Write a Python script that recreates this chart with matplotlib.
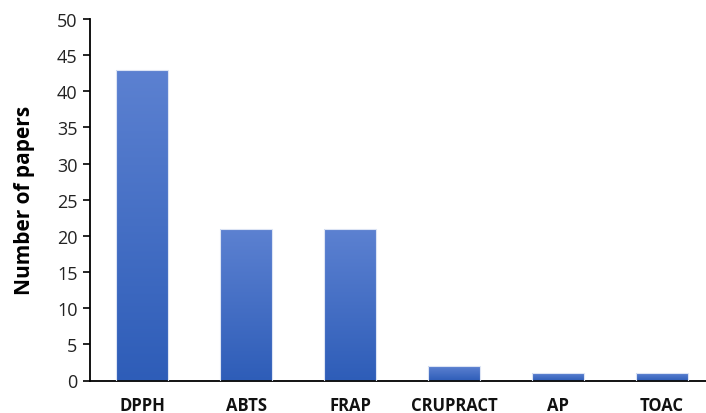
import matplotlib
matplotlib.use("Agg")
import matplotlib.pyplot as plt
import numpy as np
from matplotlib.colors import LinearSegmentedColormap

categories = ["DPPH", "ABTS", "FRAP", "CRUPRACT", "AP", "TOAC"]
values = [43, 21, 21, 2, 1, 1]
yticks = [0, 5, 10, 15, 20, 25, 30, 35, 40, 45, 50]

plt.rcParams['font.family'] = ['Open Sans', 'DejaVu Sans']

fig = plt.figure(figsize=(7.06, 4.14), dpi=100)
ax = fig.add_axes([90/706, (414-381.5)/414, (714-90)/706, (381.5-20)/414])

cmap = LinearSegmentedColormap.from_list("g", ["#2E5DB8", "#5C81D1"])
x = np.arange(len(categories))
bars = ax.bar(x, values, width=0.5, color="none", edgecolor="#DCE4F4", linewidth=0.8, zorder=3)
grad = np.linspace(0, 1, 256).reshape(-1, 1)
for b in bars:
    x0 = b.get_x()
    w, h = b.get_width(), b.get_height()
    im = ax.imshow(grad, cmap=cmap, origin="lower", aspect="auto",
                   extent=[x0, x0 + w, 0, h], zorder=2, vmin=0, vmax=1)
    im.set_clip_path(b)

ax.set_xlim(-0.5, len(categories) - 0.5)
ax.set_ylim(0, 50)
ax.set_yticks(yticks)
ax.set_yticklabels([str(v) for v in yticks], fontsize=13, color="#222222")
ax.set_xticks(x)
ax.set_xticklabels(categories, fontsize=12, fontweight="bold", color="#111111")
ax.tick_params(axis="x", length=0, pad=11)
ax.tick_params(axis="y", length=5, width=1.2, direction="out", pad=4)
for s in ["top", "right"]:
    ax.spines[s].set_visible(False)
ax.spines["left"].set_linewidth(1.3)
ax.spines["bottom"].set_linewidth(1.3)
ax.set_ylabel("Number of papers", fontsize=15, fontweight="bold", labelpad=16)

fig.savefig("out.png", dpi=100)
